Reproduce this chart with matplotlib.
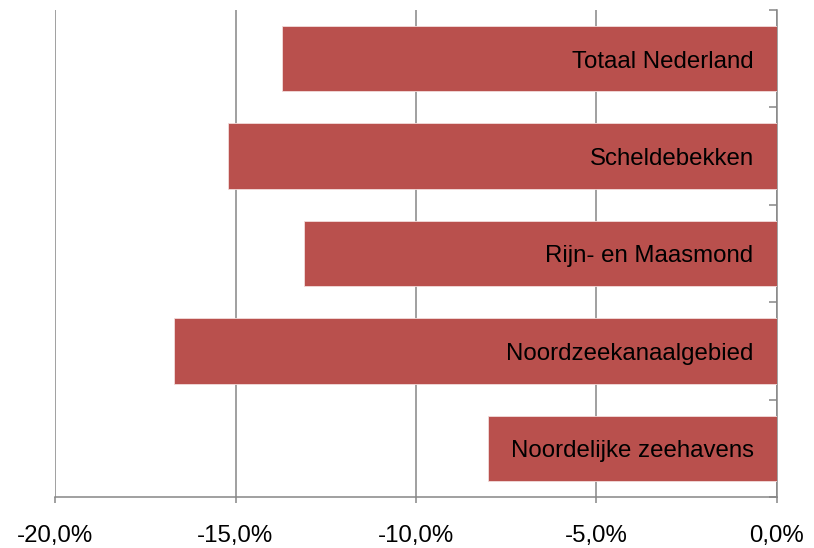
import numpy as np
import matplotlib
matplotlib.use('Agg')
from matplotlib import pyplot as plt
from matplotlib.ticker import FuncFormatter, FixedLocator

regions = ['Totaal Nederland', 'Scheldebekken', 'Rijn- en Maasmond',
           'Noordzeekanaalgebied', 'Noordelijke zeehavens']
change = [-13.7, -15.2, -13.1, -16.7, -8.0]

plt.rcParams['font.family'] = ['Liberation Sans', 'DejaVu Sans']

fig = plt.figure(figsize=(8.14, 5.48), dpi=100)
ax = fig.add_axes([55 / 814, 51 / 548, 722 / 814, 487 / 548])

y = np.arange(len(regions))
ax.barh(y, change, height=0.67, color='#B9504D', edgecolor='#F2DCDB',
        linewidth=0.6, zorder=3)

for yi, name in zip(y, regions):
    ax.text(-0.65, yi + 0.03, name, ha='right', va='center', fontsize=17.3,
            zorder=4)

ax.set_xlim(-20, 0)
ax.set_ylim(len(regions) - 0.5, -0.5)
ax.set_xticks([-20, -15, -10, -5, 0])
ax.xaxis.set_major_formatter(FuncFormatter(
    lambda v, p: ('%.1f%%' % (0.0 if abs(v) < 1e-9 else v)).replace('.', ',')))
ax.grid(axis='x', color='#868686', linewidth=1.1, zorder=0)
ax.set_axisbelow(True)

for s in ['top', 'left']:
    ax.spines[s].set_visible(False)
for s in ['bottom', 'right']:
    ax.spines[s].set_color('#868686')
    ax.spines[s].set_linewidth(1.1)

ax.tick_params(axis='x', length=4.5, width=1.1, color='#868686',
               labelsize=17.3, pad=15.5)
ax.yaxis.tick_right()
ax.yaxis.set_major_locator(FixedLocator(np.arange(-0.5, len(regions), 1.0)))
ax.tick_params(axis='y', direction='in', length=6, width=1.1,
               color='#868686', labelright=False, labelleft=False)

plt.savefig('out.png', dpi=100)
